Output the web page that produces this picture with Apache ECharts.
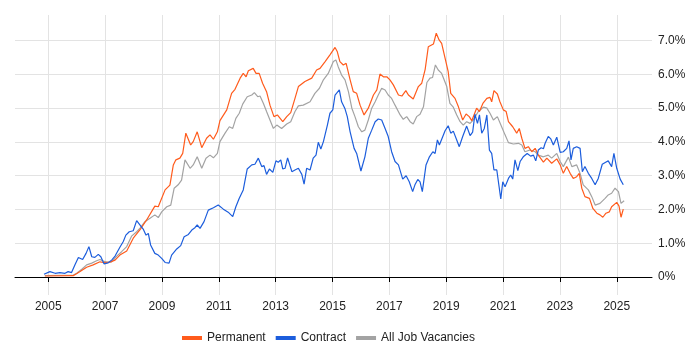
<!DOCTYPE html>
<html>
<head>
<meta charset="utf-8">
<script src="https://cdn.jsdelivr.net/npm/echarts@6/dist/echarts.min.js"></script>
<style>
  html, body { margin: 0; padding: 0; background: #fff; }
  #main { width: 700px; height: 350px; }
</style>
</head>
<body>
<div id="main"></div>
<script>
// [year, percent]
var permanent = [
    [2004.88, 0.03], [2005.88, 0.04], [2006.12, 0.16], [2006.35, 0.29], [2006.58, 0.36],
    [2006.82, 0.45], [2006.94, 0.43], [2007.17, 0.44], [2007.35, 0.50], [2007.52, 0.65],
    [2007.76, 0.77], [2007.99, 1.15], [2008.23, 1.40], [2008.46, 1.69], [2008.75, 2.10],
    [2008.87, 2.08], [2009.11, 2.58], [2009.28, 2.72], [2009.40, 3.32], [2009.49, 3.47],
    [2009.63, 3.52], [2009.73, 3.66], [2009.84, 4.26], [2010.01, 3.91], [2010.10, 4.01],
    [2010.24, 4.30], [2010.40, 3.83], [2010.57, 4.11], [2010.69, 4.21], [2010.81, 4.08],
    [2010.95, 4.30], [2011.04, 4.63], [2011.28, 4.95], [2011.45, 5.44], [2011.57, 5.56],
    [2011.75, 5.89], [2011.86, 6.03], [2011.96, 5.93], [2012.04, 6.11], [2012.21, 6.18],
    [2012.31, 6.03], [2012.42, 6.03], [2012.54, 5.74], [2012.68, 5.49], [2012.80, 5.09],
    [2012.94, 4.75], [2013.06, 4.80], [2013.25, 4.60], [2013.39, 4.75], [2013.53, 4.87],
    [2013.68, 5.29], [2013.80, 5.64], [2014.03, 5.79], [2014.27, 5.89], [2014.44, 6.13],
    [2014.56, 6.18], [2014.74, 6.38], [2014.91, 6.58], [2015.09, 6.80], [2015.17, 6.67],
    [2015.26, 6.38], [2015.38, 6.28], [2015.48, 6.33], [2015.62, 5.84], [2015.73, 5.49],
    [2015.85, 5.44], [2015.97, 5.09], [2016.11, 4.80], [2016.26, 5.00], [2016.44, 5.39],
    [2016.56, 5.54], [2016.67, 6.01], [2016.79, 5.93], [2016.91, 5.93], [2017.02, 5.84],
    [2017.14, 5.69], [2017.32, 5.39], [2017.44, 5.36], [2017.58, 5.52], [2017.67, 5.39],
    [2017.84, 5.27], [2018.02, 5.64], [2018.14, 5.74], [2018.26, 6.15], [2018.37, 6.82],
    [2018.55, 6.90], [2018.65, 7.22], [2018.75, 7.02], [2018.84, 6.92], [2018.96, 6.48],
    [2019.07, 6.08], [2019.16, 5.44], [2019.31, 5.29], [2019.43, 5.04], [2019.58, 4.65],
    [2019.70, 4.83], [2019.81, 4.75], [2019.90, 4.63], [2020.07, 5.00], [2020.17, 4.90],
    [2020.29, 5.14], [2020.43, 5.29], [2020.54, 5.32], [2020.60, 5.19], [2020.68, 5.52],
    [2020.80, 5.42], [2020.89, 5.19], [2021.01, 4.95], [2021.11, 4.90], [2021.19, 4.60],
    [2021.34, 4.45], [2021.48, 4.26], [2021.57, 4.40], [2021.66, 4.11], [2021.77, 3.81],
    [2021.89, 3.86], [2022.01, 3.71], [2022.13, 3.81], [2022.24, 3.61], [2022.42, 3.40],
    [2022.54, 3.52], [2022.71, 3.37], [2022.89, 3.50], [2023.01, 3.32], [2023.12, 3.07],
    [2023.24, 3.27], [2023.36, 3.07], [2023.47, 2.92], [2023.59, 2.97], [2023.68, 3.07],
    [2023.77, 2.63], [2023.88, 2.38], [2024.04, 2.33], [2024.16, 2.03], [2024.30, 1.89],
    [2024.41, 1.84], [2024.51, 1.77], [2024.62, 1.89], [2024.74, 1.93], [2024.82, 2.08],
    [2024.88, 2.03], [2025.00, 2.21], [2025.08, 2.10], [2025.15, 1.77], [2025.23, 2.01]
];

var contract = [
    [2004.85, 0.08], [2005.06, 0.16], [2005.24, 0.11], [2005.41, 0.13], [2005.59, 0.11],
    [2005.70, 0.16], [2005.82, 0.13], [2005.94, 0.36], [2006.06, 0.58], [2006.21, 0.52],
    [2006.33, 0.70], [2006.43, 0.90], [2006.53, 0.60], [2006.64, 0.58], [2006.76, 0.67],
    [2006.85, 0.60], [2006.96, 0.39], [2007.11, 0.42], [2007.23, 0.50], [2007.35, 0.62],
    [2007.52, 0.88], [2007.64, 1.05], [2007.73, 1.24], [2007.85, 1.34], [2007.99, 1.37],
    [2008.11, 1.67], [2008.23, 1.54], [2008.34, 1.42], [2008.44, 1.24], [2008.52, 1.29],
    [2008.60, 0.95], [2008.75, 0.70], [2008.87, 0.65], [2008.99, 0.55], [2009.11, 0.43],
    [2009.25, 0.41], [2009.34, 0.65], [2009.52, 0.83], [2009.66, 0.93], [2009.78, 1.19],
    [2009.93, 1.26], [2010.05, 1.39], [2010.16, 1.46], [2010.24, 1.54], [2010.34, 1.44],
    [2010.48, 1.64], [2010.63, 1.98], [2010.81, 2.05], [2010.98, 2.13], [2011.16, 2.01],
    [2011.33, 1.92], [2011.49, 1.79], [2011.60, 2.08], [2011.72, 2.33], [2011.86, 2.58],
    [2012.00, 3.20], [2012.16, 3.32], [2012.27, 3.34], [2012.39, 3.52], [2012.51, 3.27],
    [2012.59, 3.30], [2012.68, 3.04], [2012.78, 3.20], [2012.90, 3.10], [2013.01, 3.44],
    [2013.09, 3.40], [2013.18, 3.47], [2013.25, 3.20], [2013.33, 3.22], [2013.42, 3.53],
    [2013.57, 3.12], [2013.68, 3.17], [2013.80, 3.22], [2013.92, 3.04], [2014.00, 2.75],
    [2014.09, 3.22], [2014.21, 3.17], [2014.32, 3.52], [2014.42, 3.61], [2014.50, 3.99],
    [2014.59, 3.79], [2014.68, 4.01], [2014.82, 4.50], [2014.91, 4.85], [2015.01, 4.95],
    [2015.09, 5.39], [2015.24, 5.54], [2015.32, 5.19], [2015.44, 4.98], [2015.52, 4.75],
    [2015.62, 4.30], [2015.76, 3.81], [2015.85, 3.66], [2016.00, 3.14], [2016.14, 3.56],
    [2016.26, 4.11], [2016.38, 4.35], [2016.50, 4.60], [2016.61, 4.68], [2016.73, 4.65],
    [2016.85, 4.40], [2016.96, 4.16], [2017.08, 3.71], [2017.20, 3.42], [2017.32, 3.32],
    [2017.47, 2.90], [2017.59, 3.00], [2017.70, 2.82], [2017.82, 2.53], [2017.90, 2.73],
    [2018.00, 2.89], [2018.08, 2.82], [2018.16, 2.53], [2018.29, 3.32], [2018.41, 3.56],
    [2018.53, 3.71], [2018.61, 3.66], [2018.69, 4.06], [2018.76, 3.91], [2018.88, 4.16],
    [2018.96, 4.33], [2019.07, 4.48], [2019.16, 4.26], [2019.25, 4.32], [2019.37, 4.06],
    [2019.46, 3.86], [2019.58, 4.16], [2019.72, 4.47], [2019.84, 4.19], [2019.93, 4.29],
    [2020.01, 4.82], [2020.10, 4.55], [2020.17, 4.80], [2020.25, 4.26], [2020.34, 4.40],
    [2020.43, 4.80], [2020.52, 3.76], [2020.60, 3.66], [2020.68, 3.17], [2020.78, 3.17],
    [2020.83, 3.22], [2020.92, 2.31], [2020.99, 2.82], [2021.07, 2.67], [2021.19, 2.92],
    [2021.27, 3.02], [2021.34, 2.90], [2021.42, 3.47], [2021.52, 3.15], [2021.60, 3.42],
    [2021.71, 3.56], [2021.85, 3.66], [2021.97, 3.58], [2022.07, 3.61], [2022.15, 3.44],
    [2022.24, 3.76], [2022.34, 3.83], [2022.42, 3.80], [2022.48, 3.96], [2022.59, 4.16],
    [2022.68, 4.09], [2022.77, 3.91], [2022.89, 4.14], [2023.01, 3.69], [2023.12, 3.71],
    [2023.24, 3.81], [2023.32, 4.03], [2023.39, 3.47], [2023.47, 3.81], [2023.59, 3.86],
    [2023.71, 3.81], [2023.79, 3.12], [2023.88, 3.27], [2024.00, 3.07], [2024.12, 2.92],
    [2024.24, 2.73], [2024.35, 2.92], [2024.41, 2.92], [2024.49, 3.34], [2024.61, 3.40],
    [2024.70, 3.44], [2024.82, 3.27], [2024.90, 3.66], [2025.00, 3.22], [2025.12, 2.90],
    [2025.23, 2.73]
];

var allJobs = [
    [2004.88, 0.04], [2005.88, 0.06], [2006.00, 0.11], [2006.18, 0.23], [2006.35, 0.36],
    [2006.53, 0.41], [2006.70, 0.48], [2006.82, 0.52], [2006.94, 0.47], [2007.05, 0.44],
    [2007.23, 0.45], [2007.41, 0.62], [2007.58, 0.75], [2007.76, 0.90], [2007.93, 1.21],
    [2008.11, 1.34], [2008.23, 1.45], [2008.40, 1.64], [2008.58, 1.74], [2008.75, 1.84],
    [2008.87, 1.76], [2008.99, 1.93], [2009.17, 2.08], [2009.31, 2.13], [2009.43, 2.63],
    [2009.57, 2.73], [2009.69, 2.87], [2009.81, 3.47], [2009.99, 3.22], [2010.10, 3.32],
    [2010.24, 3.56], [2010.40, 3.22], [2010.55, 3.52], [2010.69, 3.61], [2010.81, 3.53],
    [2010.95, 3.66], [2011.04, 4.01], [2011.22, 4.26], [2011.37, 4.45], [2011.49, 4.40],
    [2011.60, 4.70], [2011.72, 4.85], [2011.84, 5.12], [2012.00, 5.34], [2012.16, 5.39],
    [2012.25, 5.46], [2012.37, 5.34], [2012.45, 5.36], [2012.57, 5.14], [2012.68, 4.90],
    [2012.80, 4.65], [2012.92, 4.40], [2013.04, 4.50], [2013.21, 4.40], [2013.39, 4.53],
    [2013.53, 4.60], [2013.68, 4.90], [2013.80, 5.07], [2013.97, 5.09], [2014.21, 5.19],
    [2014.38, 5.44], [2014.54, 5.59], [2014.68, 5.84], [2014.85, 6.03], [2015.03, 6.38],
    [2015.12, 6.43], [2015.20, 6.23], [2015.32, 5.98], [2015.44, 5.84], [2015.56, 5.49],
    [2015.68, 5.00], [2015.79, 4.75], [2015.91, 4.45], [2016.03, 4.30], [2016.14, 4.35],
    [2016.26, 4.65], [2016.38, 5.00], [2016.50, 5.19], [2016.61, 5.39], [2016.73, 5.59],
    [2016.85, 5.54], [2016.96, 5.39], [2017.08, 5.29], [2017.20, 5.09], [2017.38, 4.80],
    [2017.49, 4.67], [2017.61, 4.75], [2017.73, 4.60], [2017.84, 4.53], [2017.96, 4.75],
    [2018.08, 4.82], [2018.20, 5.04], [2018.32, 5.76], [2018.43, 5.89], [2018.52, 5.91],
    [2018.62, 6.28], [2018.72, 6.13], [2018.84, 6.03], [2019.02, 5.64], [2019.13, 5.14],
    [2019.25, 5.03], [2019.37, 4.80], [2019.49, 4.60], [2019.60, 4.50], [2019.72, 4.60],
    [2019.84, 4.55], [2019.95, 4.65], [2020.13, 4.90], [2020.31, 5.03], [2020.43, 5.00],
    [2020.54, 4.85], [2020.66, 4.65], [2020.80, 4.75], [2020.95, 4.45], [2021.07, 4.21],
    [2021.19, 3.98], [2021.36, 3.94], [2021.54, 3.96], [2021.66, 3.91], [2021.77, 3.71],
    [2021.95, 3.76], [2022.13, 3.71], [2022.24, 3.61], [2022.42, 3.56], [2022.59, 3.61],
    [2022.71, 3.52], [2022.89, 3.66], [2023.01, 3.42], [2023.12, 3.27], [2023.30, 3.55],
    [2023.42, 3.27], [2023.59, 3.32], [2023.71, 3.07], [2023.82, 2.73], [2024.00, 2.58],
    [2024.12, 2.38], [2024.24, 2.13], [2024.41, 2.18], [2024.59, 2.33], [2024.70, 2.43],
    [2024.82, 2.48], [2024.94, 2.63], [2025.06, 2.53], [2025.15, 2.18], [2025.26, 2.26]
];

var yearTicks = [2005, 2007, 2009, 2011, 2013, 2015, 2017, 2019, 2021, 2023, 2025];
var percentTicks = [0, 1, 2, 3, 4, 5, 6, 7];
var seriesNames = ['Permanent', 'Contract', 'All Job Vacancies'];

var chartDom = document.getElementById('main');
var myChart = echarts.init(chartDom);
var option;

var font = 'Liberation Sans, Arial, sans-serif';

option = {
    animation: false,
    textStyle: { fontFamily: font },
    color: ['#ff5b1c', '#1c5ddc', '#a3a3a3'],
    grid: {
        left: 15,
        right: 48,
        top: 15,
        bottom: 55
    },
    legend: {
        data: seriesNames,
        left: 177,
        top: 327,
        icon: 'rect',
        itemWidth: 20,
        itemHeight: 4,
        itemGap: 10,
        textStyle: { color: '#222', fontSize: 12, fontFamily: font }
    },
    xAxis: {
        type: 'value',
        min: 2003.83,
        max: 2026.24,
        axisLine: { show: true, lineStyle: { color: '#000', width: 1 } },
        axisTick: {
            show: true,
            length: 5,
            customValues: yearTicks,
            lineStyle: { color: '#000' }
        },
        axisLabel: {
            customValues: yearTicks,
            color: '#222',
            fontSize: 12,
            margin: 6,
            formatter: function (v) { return String(v); }
        },
        splitLine: { show: true, lineStyle: { color: '#e3e3e3', width: 1 } }
    },
    yAxis: {
        type: 'value',
        position: 'right',
        min: -0.533,
        max: 7.76,
        axisLine: { show: false },
        axisTick: { show: false, customValues: percentTicks },
        axisLabel: {
            customValues: percentTicks,
            color: '#222',
            fontSize: 12,
            margin: 6,
            formatter: function (v) { return v === 0 ? '0%' : v.toFixed(1) + '%'; }
        },
        splitLine: { show: true, lineStyle: { color: '#e3e3e3', width: 1 } }
    },
    series: [
        {
            name: 'Permanent',
            type: 'line',
            data: permanent,
            showSymbol: false,
            z: 3,
            lineStyle: { width: 1.2 }
        },
        {
            name: 'Contract',
            type: 'line',
            data: contract,
            showSymbol: false,
            z: 4,
            lineStyle: { width: 1.2 }
        },
        {
            name: 'All Job Vacancies',
            type: 'line',
            data: allJobs,
            showSymbol: false,
            z: 2,
            lineStyle: { width: 1.2 }
        }
    ]
};

option && myChart.setOption(option);
</script>
</body>
</html>
